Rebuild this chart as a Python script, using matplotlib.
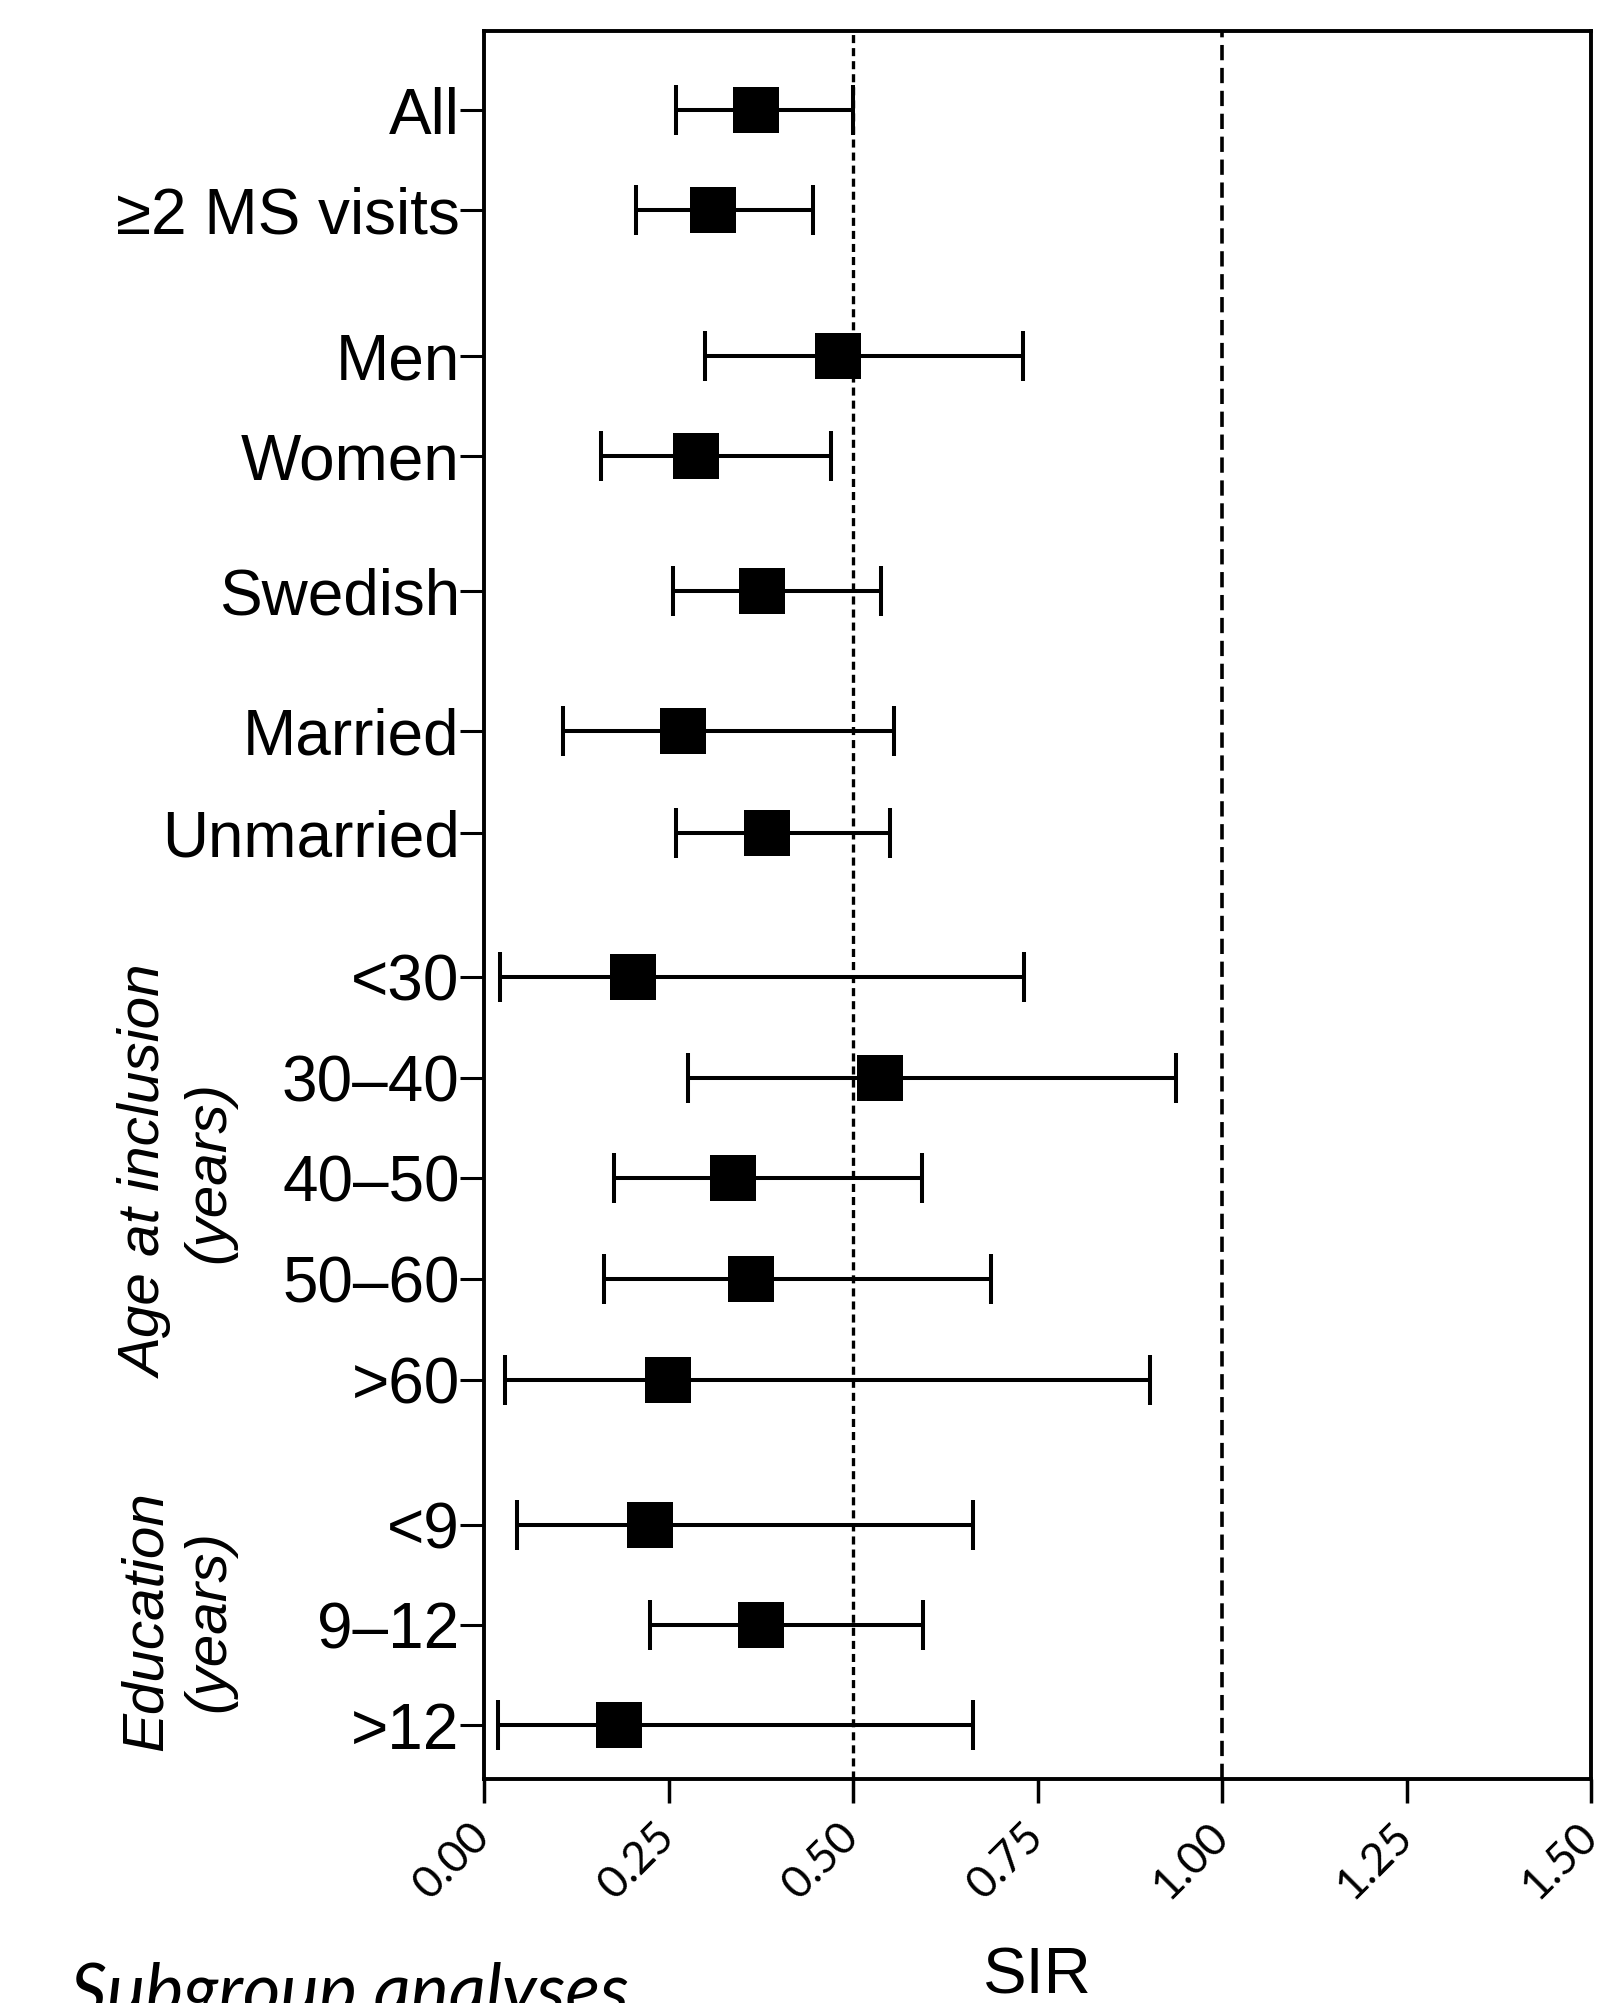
import matplotlib
matplotlib.use("Agg")
import matplotlib.pyplot as plt
from matplotlib.transforms import ScaledTranslation

# ---------------- data ----------------
labels = ["All", "≥2 MS visits", "Men", "Women", "Swedish", "Married", "Unmarried",
          "<30", "30–40", "40–50", "50–60", ">60", "<9", "9–12", ">12"]
sir = [0.368, 0.310, 0.479, 0.287, 0.377, 0.270, 0.384,
       0.202, 0.536, 0.337, 0.362, 0.249, 0.225, 0.375, 0.183]
ci_lo = [0.260, 0.206, 0.300, 0.159, 0.256, 0.107, 0.260,
         0.022, 0.277, 0.176, 0.163, 0.029, 0.045, 0.225, 0.019]
ci_hi = [0.500, 0.446, 0.730, 0.470, 0.538, 0.555, 0.550,
         0.732, 0.938, 0.593, 0.687, 0.903, 0.663, 0.595, 0.663]
xtick_values = [0.0, 0.25, 0.5, 0.75, 1.0, 1.25, 1.5]
xtick_labels = ["0.00", "0.25", "0.50", "0.75", "1.00", "1.25", "1.50"]
ref_lines = [0.5, 1.0]
group_labels = ["Age at inclusion\n(years)", "Education\n(years)"]
xlabel = "SIR"
footer = "Subgroup analyses"

# ---------------- layout ----------------
W, H = 1598, 2003
row_y = [110, 210, 356, 456, 591, 731, 833, 977, 1078, 1178, 1279, 1380, 1525, 1625, 1725]
ax_left, ax_right, ax_top, ax_bottom = 484, 1591, 31, 1779

plt.rcParams["lines.scale_dashes"] = False
fig = plt.figure(figsize=(W / 100, H / 100), dpi=100)
ax = fig.add_axes([ax_left / W, 1 - ax_bottom / H,
                   (ax_right - ax_left) / W, (ax_bottom - ax_top) / H])

ax.axvline(ref_lines[0], color="black", lw=2.4, linestyle=(0, (5.8, 3.6)), zorder=1)
ax.axvline(ref_lines[1], color="black", lw=2.6, linestyle=(0, (11, 5.5)), zorder=1)

xerr = [[s - l for s, l in zip(sir, ci_lo)], [h - s for s, h in zip(sir, ci_hi)]]
ax.errorbar(sir, row_y, xerr=xerr, fmt="none", ecolor="black",
            elinewidth=2.9, capsize=18, capthick=2.9, zorder=3)
ax.plot(sir, row_y, linestyle="none", marker="s", color="black",
        markersize=33, markeredgewidth=0, zorder=4)

ax.set_xlim(0, 1.5)
ax.set_ylim(ax_bottom, ax_top)

ax.set_yticks(row_y)
ax.set_yticklabels(labels, fontsize=46, family="Liberation Sans")
ax.tick_params(axis="y", length=17, width=2.2, pad=0.5)

ax.set_xticks(xtick_values)
ax.set_xticklabels(xtick_labels, fontsize=32, family="Lato", rotation=45, ha="right")
ax.tick_params(axis="x", length=17, width=2.5, pad=9)
shift = ScaledTranslation(14 / 100, 0, fig.dpi_scale_trans)
for lab in ax.get_xticklabels():
    lab.set_transform(lab.get_transform() + shift)

for sp in ax.spines.values():
    sp.set_linewidth(2.8)

fig.text(178 / W, 1 - 1172 / H, group_labels[0], rotation=90, ha="center", va="center",
         multialignment="center", fontsize=42, style="italic", family="Liberation Sans",
         linespacing=1.2)
fig.text(178 / W, 1 - 1621 / H, group_labels[1], rotation=90, ha="center", va="center",
         multialignment="center", fontsize=42, style="italic", family="Liberation Sans",
         linespacing=1.2)

fig.text((ax_left + ax_right) / 2 / W, 1 - 1993 / H, xlabel, ha="center", va="baseline",
         fontsize=47, family="Liberation Sans")
fig.text(70 / W, 1 - 2015 / H, footer, ha="left", va="baseline", fontsize=52,
         style="italic", family="Lato")

fig.savefig("out.png", dpi=100)
